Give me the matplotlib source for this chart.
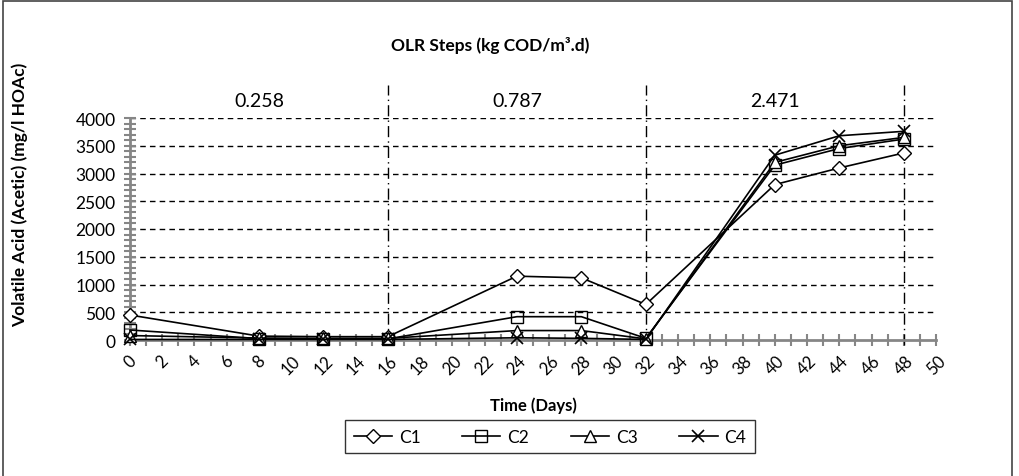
import matplotlib
matplotlib.use("Agg")
from matplotlib import pyplot as plt
from matplotlib.patches import Rectangle
import numpy as np

plt.rcParams['font.family'] = ['Lato', 'DejaVu Sans']

# sampling days and volatile acid readings (mg/l HOAc)
days = [0, 8, 12, 16, 24, 28, 32, 40, 44, 48]
c1 = [450, 70, 60, 60, 1150, 1120, 640, 2800, 3100, 3370]
c2 = [180, 25, 20, 20, 420, 420, 30, 3150, 3450, 3620]
c3 = [80, 35, 30, 30, 170, 170, 20, 3200, 3500, 3650]
c4 = [10, 10, 10, 10, 40, 30, 10, 3330, 3680, 3760]

series_names = ['C1', 'C2', 'C3', 'C4']
step_days = [16, 32, 48]
step_labels = ['0.258', '0.787', '2.471']
step_label_x = [8, 24, 40]

GRAY = '#868686'

fig = plt.figure(figsize=(10.19, 4.77), dpi=100)
ax = fig.add_axes([130 / 1019, 1 - 341 / 477, 806 / 1019, 222 / 477])

styles = [
    dict(marker='D', markersize=7, markerfacecolor='white'),
    dict(marker='s', markersize=8, markerfacecolor='none'),
    dict(marker='^', markersize=8, markerfacecolor='white'),
    dict(marker='x', markersize=9, markeredgewidth=1.2),
]
for vals, name, st in zip([c1, c2, c3, c4], series_names, styles):
    ax.plot(days, vals, color='black', linewidth=1.2, markeredgecolor='black',
            label=name, clip_on=False, zorder=4, **st)

ax.set_xlim(0, 50)
ax.set_ylim(0, 4000)

# dashed horizontal grid
for y in np.arange(500, 4001, 500):
    ax.axhline(y, color='black', linestyle=(0, (4, 3)), linewidth=1, zorder=1)

# OLR step boundaries (dash-dot), running above the plot
for d in step_days:
    ax.plot([d, d], [-90, 4600], color='black', linestyle=(0, (8, 3, 1, 3)),
            linewidth=1, clip_on=False, zorder=2)
for x, s in zip(step_label_x, step_labels):
    ax.text(x, 4320, s, ha='center', va='center', fontsize=14)

fig.text(490 / 1019, 1 - 45 / 477, 'OLR Steps (kg COD/m\u00b3.d)', ha='center',
         va='center', fontsize=12.5, fontweight='bold')

for side in ['top', 'right']:
    ax.spines[side].set_visible(False)
for side in ['left', 'bottom']:
    ax.spines[side].set_color(GRAY)
    ax.spines[side].set_linewidth(2)

ax.set_xticks(np.arange(0, 51, 2))
ax.set_xticks(np.arange(0, 51, 1), minor=True)
ax.set_yticks(np.arange(0, 4001, 500))
ax.set_yticks(np.arange(0, 4001, 100), minor=True)
ax.tick_params(which='both', direction='inout', color=GRAY, width=1.5, length=9)
ax.tick_params(axis='y', labelsize=12.5, pad=6)
ax.tick_params(axis='x', labelsize=12, pad=4)
for lab in ax.get_xticklabels():
    lab.set_rotation(45)
    lab.set_ha('center')
    lab.set_va('top')

ax.set_xlabel('Time (Days)', fontsize=12, fontweight='bold', labelpad=14)
ax.set_ylabel('Volatile Acid (Acetic) (mg/l HOAc)', fontsize=12.5,
              fontweight='bold')
ax.yaxis.set_label_coords(-0.127, 0.66)

leg = fig.legend(loc='upper center', bbox_to_anchor=(550 / 1019, 1 - 421 / 477),
                 ncol=4, fontsize=12.5, frameon=True, fancybox=False,
                 handlelength=2.2, columnspacing=2.4, handletextpad=0.4,
                 borderpad=0.5, borderaxespad=0)
leg.get_frame().set_edgecolor('black')
leg.get_frame().set_linewidth(1)

# outer chart border
fig.add_artist(Rectangle((0.003, -0.2), 0.99, 1.195, transform=fig.transFigure,
                         fill=False, edgecolor='#444444', linewidth=1.2))

fig.savefig('out.png', dpi=100)
